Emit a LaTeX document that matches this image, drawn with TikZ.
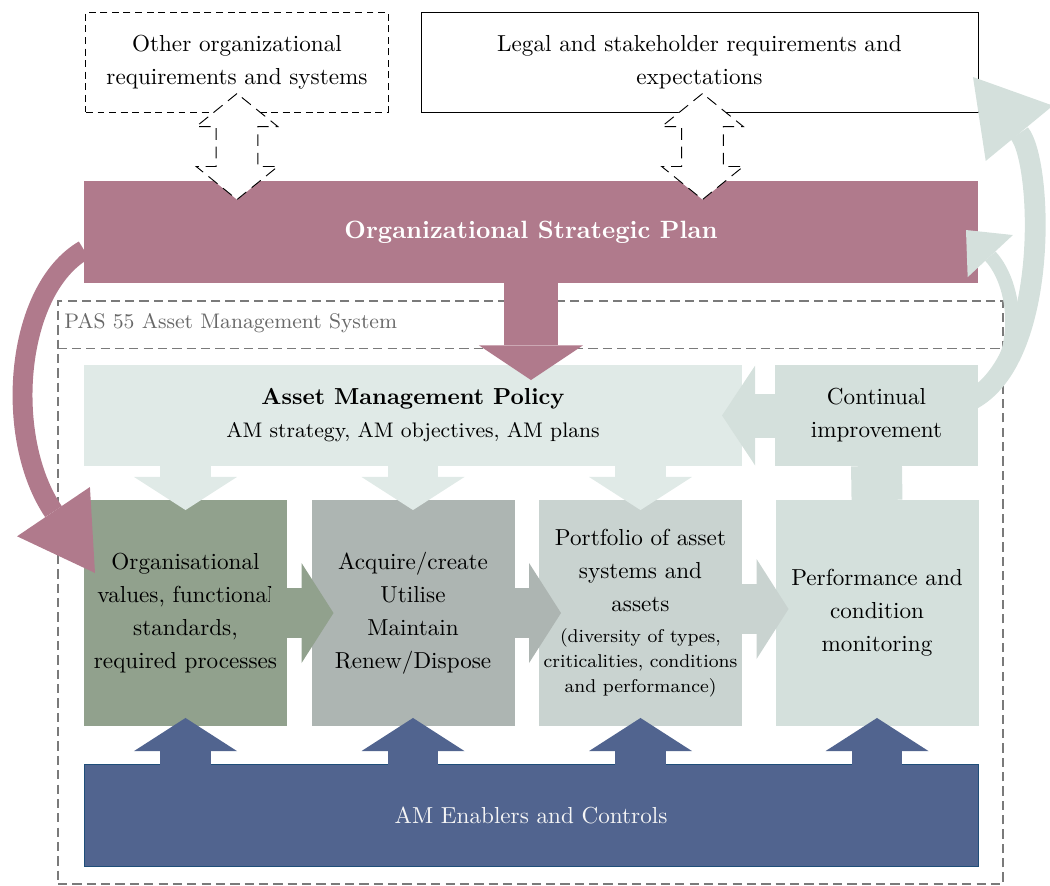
\documentclass[tikz,border=0pt]{standalone}
\usepackage{tikz}
\usetikzlibrary{arrows.meta,calc,shapes.arrows}

\definecolor{planpurple}{HTML}{B07A8C}
\definecolor{orggreen}{HTML}{91A18D}
\definecolor{acqgray}{HTML}{ADB5B2}
\definecolor{portgray}{HTML}{C9D3D0}
\definecolor{cigreen}{HTML}{D4E0DC}
\definecolor{policygreen}{HTML}{E0EAE7}
\definecolor{enablerblue}{HTML}{51648F}
\definecolor{enablerline}{HTML}{1F4E79}
\definecolor{pasgray}{HTML}{7A7A7A}

\tikzset{
  box/.style={inner sep=0pt, outer sep=0pt, align=center, font=\fontsize{10}{14.3}\selectfont},
  tallbox/.style={box, minimum width=87.7pt, minimum height=97.6pt},
  widebox/.style={box, minimum width=386.2pt, minimum height=44pt},
  dblarrow/.style={double arrow, draw, fill=white, dash pattern=on 5pt off 3pt, rotate=90,
    minimum height=45.8pt, minimum width=35pt, double arrow head extend=8.6pt,
    double arrow tip angle=102, inner xsep=0pt, inner ysep=8.85pt},
  block/.style={line width=22pt, -{Triangle[length=14.3pt, width=44.5pt, line width=0pt]}},
  sideblock/.style={line width=22pt, -{Triangle[length=13.8pt, width=43.2pt, line width=0pt]}},
  pasline/.style={draw=pasgray, dash pattern=on 4pt off 2.2pt, line width=0.5pt},
}
\newcommand{\smalltxt}{\fontsize{8}{10.8}\selectfont}
\newcommand{\midtxt}{\fontsize{9.1}{13}\selectfont}

\begin{document}
\begin{tikzpicture}[x=0.432pt, y=-0.432pt]
\useasboundingbox (0,0) rectangle (1050,885);

% outer system frame
\node[pasline, minimum width=408.2pt, minimum height=251.9pt, inner sep=0pt] (pas) at (530.5,592.5) {};
\draw[pasline] ($(pas.north west)+(0,48)$) -- ($(pas.north east)+(0,48)$);
\node[box, anchor=west, text=pasgray!85!black, font=\midtxt] (pastitle) at ($(pas.north west)+(7,23)$) {PAS 55 Asset Management System};

% top boxes
\node[box, draw, dash pattern=on 3pt off 2pt, minimum width=130.5pt, minimum height=43.2pt] (other) at (237,62) {Other organizational\\requirements and systems};
\node[box, draw, minimum width=240.6pt, minimum height=43.2pt] (legal) at (699.5,62) {Legal and stakeholder requirements and\\expectations};
\node[widebox, fill=planpurple, text=white, font=\fontsize{10.8}{14.3}\selectfont\bfseries] (plan) at (531,232) {Organizational Strategic Plan};

% policy row
\node[box, fill=policygreen, minimum width=284.3pt, minimum height=43.6pt] (policy) at (413,415.5) {\textbf{Asset Management Policy}\\\midtxt AM strategy, AM objectives, AM plans};
\node[box, fill=cigreen, minimum width=87.7pt, minimum height=43.6pt] (ci) at (876.5,415.5) {Continual\\improvement};

% life cycle row
\node[tallbox, fill=orggreen] (org) at (185.5,613) {Organisational\\values, functional\\standards,\\required processes};
\node[tallbox, fill=acqgray] (acq) at (413,613) {Acquire/create\\Utilise\\Maintain\\Renew/Dispose};
\node[tallbox, fill=portgray] (port) at (640.5,613) {Portfolio of asset\\systems and\\assets\\[-1.3pt]\smalltxt(diversity of types,\\[-3.5pt]\smalltxt criticalities, conditions\\[-3.5pt]\smalltxt and performance)};
\node[tallbox, fill=cigreen] (perf) at (877,613) {Performance and\\condition\\monitoring};

\node[widebox, fill=enablerblue, draw=enablerline, text=white!92!gray] (enab) at (531,815.5) {AM Enablers and Controls};

% links to the strategic plan
\node[dblarrow] (otherlink) at ($(other.south)!0.5!(other.south |- plan.north)$) {};
\node[dblarrow] (legallink) at ($(legal.south)!0.5!(legal.south |- plan.north)+(3,0)$) {};

\draw[planpurple, line width=23.3pt, -{Triangle[length=15pt, width=45pt, line width=0pt]}] (plan.south) -- ($(plan.south |- policy.north)+(0,15)$);
\draw[planpurple, line width=8.6pt, -{Triangle[length=32pt, width=38pt, line width=0pt]}] ($(plan.west)+(0,18)$) .. controls +(-69,40) and +(-92,-136) .. ($(org.west)+(11,-40)$);

% policy down to the row
\foreach \n in {org,acq,port}
  \draw[block, policygreen] (policy.south -| \n.north) -- ($(\n.north)+(0,10)$);

% continual improvement
\draw[cigreen, line width=19pt, -{Triangle[length=14.3pt, width=43.2pt, line width=0pt]}] (ci.west) -- ($(policy.east)+(-20,0)$);
\draw[cigreen, line width=22pt] (ci.south) -- (perf.north);
\draw[cigreen, line width=9pt, -{Triangle[length=31.5pt, width=37.6pt, line width=0pt]}] ($(ci.east)+(-8,-15)$) .. controls +(80,-40) and +(70,85) .. ($(legal.east)+(-5,15)$);
\draw[cigreen, line width=6pt, -{Triangle[length=15.4pt, width=26.7pt, line width=0pt]}] ($(ci.east)+(-8,-13)$) .. controls +(55,-32) and +(54,58) .. ($(plan.east)+(-12,-2)$);

% flow along the row
\draw[sideblock, orggreen] ($(org.east)+(-17,0)$) -- ($(acq.west)+(22,0)$);
\draw[sideblock, acqgray] ($(acq.east)+(-17,0)$) -- ($(port.west)+(22,0)$);
\draw[sideblock, portgray] ($(port.east)+(-17,-4)$) -- ($(perf.west)+(13,-4)$);

% enablers up to the row
\foreach \n in {org,acq,port,perf}
  \draw[block, enablerblue] (enab.north -| \n.south) -- ($(\n.south)+(0,-8)$);
\end{tikzpicture}
\end{document}
